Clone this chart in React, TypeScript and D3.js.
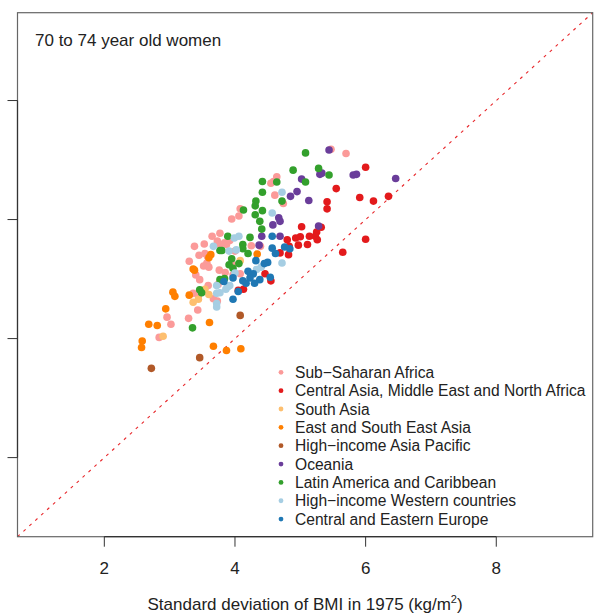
import React from "react";
import * as d3 from "d3";

const groups = [
  "Sub\u2212Saharan Africa",
  "Central Asia, Middle East and North Africa",
  "South Asia",
  "East and South East Asia",
  "High\u2212income Asia Pacific",
  "Oceania",
  "Latin America and Caribbean",
  "High\u2212income Western countries",
  "Central and Eastern Europe",
];
const colors = ["#fb9a99", "#e31a1c", "#fdbf6f", "#ff7f00", "#b15928", "#6a3d9a", "#33a02c", "#a6cee3", "#1f78b4"];

// [sd 1975, sd 2014]
const subSaharan: [number, number][] = [
  [5.47, 7.18], [5.7, 7.11], [4.55, 6.61], [4.59, 6.64], [4.64, 6.72], [4.61, 6.41], [4.74, 6.27],
  [4.08, 6.18], [4.06, 6.06], [3.95, 6.01], [3.77, 5.77], [3.73, 5.64], [3.84, 5.61], [3.92, 5.65],
  [3.87, 5.58], [3.77, 5.58], [3.38, 5.55], [3.53, 5.59], [3.45, 5.4], [3.54, 5.43], [3.58, 5.38],
  [4.0, 5.47], [4.25, 5.56], [4.39, 5.55], [3.3, 5.3], [3.57, 5.27], [3.52, 5.22], [3.4, 5.07],
  [3.46, 4.99], [3.76, 5.15], [3.85, 5.11], [3.97, 5.24], [3.97, 5.07], [4.08, 5.09], [3.59, 4.89],
  [3.74, 4.91], [3.36, 4.76], [3.44, 4.72], [3.67, 4.67], [3.73, 4.63], [3.43, 4.48], [2.96, 4.36],
  [3.29, 4.34], [3.02, 4.24], [2.84, 4.02], [3.65, 5.72], [3.6, 5.2],
];
const centralAsia: [number, number][] = [
  [6.0, 6.88], [5.55, 6.52], [5.91, 6.37], [6.12, 6.31], [6.35, 6.39], [5.41, 6.3], [5.41, 6.18],
  [5.02, 5.88], [5.32, 5.87], [5.25, 5.79], [5.23, 5.72], [6.0, 5.67], [4.8, 5.66], [4.93, 5.69],
  [5.0, 5.71], [5.14, 5.72], [5.26, 5.66], [4.83, 5.55], [4.97, 5.57], [5.11, 5.58], [4.69, 5.44],
  [4.82, 5.41], [5.65, 5.45], [4.46, 5.09], [4.55, 4.97], [4.13, 4.83], [4.05, 4.81],
];
const southAsia: [number, number][] = [
  [4.08, 5.31], [3.54, 4.83], [3.6, 4.74], [3.44, 4.66], [3.36, 4.61], [2.9, 4.04],
];
const eastAsia: [number, number][] = [
  [3.63, 5.41], [3.6, 5.36], [4.34, 5.42], [3.36, 5.17], [3.38, 5.15], [3.05, 4.78], [3.08, 4.71],
  [3.3, 4.73], [2.94, 4.5], [2.68, 4.24], [2.81, 4.22], [3.61, 4.27], [2.58, 3.96], [2.57, 3.85],
  [3.67, 3.87], [3.87, 3.8], [4.09, 3.83],
];
const asiaPacific: [number, number][] = [
  [4.08, 4.39], [3.46, 3.68], [2.72, 3.5],
];
const oceania: [number, number][] = [
  [5.44, 7.17], [5.81, 6.75], [5.86, 6.76], [6.46, 6.69], [5.3, 6.76], [5.33, 6.78], [5.02, 6.68],
  [4.95, 6.47], [4.85, 6.39], [5.13, 6.32], [4.67, 6.03], [4.69, 5.97], [4.58, 5.91], [5.28, 5.89],
  [4.41, 5.72], [4.69, 5.72], [4.37, 5.57],
];
const latinAmerica: [number, number][] = [
  [5.08, 7.12], [4.89, 6.83], [5.28, 6.86], [5.44, 6.75], [5.08, 6.63], [4.42, 6.64], [4.64, 6.63],
  [4.42, 6.46], [4.32, 6.31], [4.31, 6.23], [4.72, 6.31], [4.13, 6.16], [4.42, 6.15], [4.31, 6.08],
  [4.38, 5.97], [4.41, 5.84], [4.23, 5.7], [3.89, 5.72], [4.12, 5.58], [4.12, 5.51], [4.2, 5.43],
  [3.77, 5.48], [3.8, 5.48], [3.95, 5.34], [3.91, 5.24], [3.97, 5.18], [4.06, 5.26], [3.77, 4.99],
  [3.84, 5.01], [3.46, 4.82], [3.49, 4.77], [3.35, 4.18],
];
const western: [number, number][] = [
  [4.72, 6.46], [4.57, 6.11], [3.99, 5.69], [4.06, 5.72], [3.67, 5.55], [3.91, 5.47], [4.02, 5.49],
  [4.0, 5.1], [4.72, 5.27], [4.33, 5.16], [4.4, 5.2], [3.89, 4.87], [3.86, 4.83], [3.77, 4.77],
  [3.72, 4.76], [3.92, 4.89], [3.72, 4.59], [3.72, 4.53], [3.72, 4.89],
];
const easternEurope: [number, number][] = [
  [4.57, 5.72], [4.57, 5.52], [4.62, 5.43], [4.76, 5.54], [4.84, 5.51], [4.5, 5.28], [4.45, 5.26],
  [4.32, 5.31], [4.2, 5.13], [4.28, 5.09], [4.38, 4.99], [4.54, 5.03], [4.12, 4.97], [4.17, 4.93],
  [4.3, 4.93], [4.23, 5.02], [3.83, 4.96], [3.97, 5.02], [4.05, 4.79], [3.97, 4.66],
];
const seriesData = [subSaharan, centralAsia, southAsia, eastAsia, asiaPacific, oceania, latinAmerica, western, easternEurope];
const ticks = [2, 4, 6, 8];
const title = "70 to 74 year old women";

export default function App() {
  const W = 605, H = 616;
  const left = 17.5, right = 592.7, top = 12.7, bottom = 536.7;
  const domain: [number, number] = [0.671, 9.476];
  const x = d3.scaleLinear().domain(domain).range([left, right]);
  const y = d3.scaleLinear().domain(domain).range([bottom, top]);
  const font = "'Liberation Sans', Arial, sans-serif";
  const legendX = 281, legendY0 = 372.3, legendStep = 18.35;

  return (
    <svg width={W} height={H} style={{ position: "absolute", left: 0, top: 0, background: "#fff" }} fontFamily={font}>
      <rect x={0} y={0} width={W} height={H} fill="#fff" />
      {/* diagonal y = x */}
      <line x1={x(domain[0])} y1={y(domain[0])} x2={x(domain[1])} y2={y(domain[1])}
        stroke="#e8262a" strokeWidth={1.1} strokeDasharray="3,5" />
      {/* points */}
      {seriesData.map((pts, gi) => (
        <g key={gi}>
          {pts.map((p, i) => (
            <circle key={i} cx={x(p[0])} cy={y(p[1])} r={3.8} fill={colors[gi]} />
          ))}
        </g>
      ))}
      {/* frame */}
      <rect x={left} y={top} width={right - left} height={bottom - top} fill="none" stroke="#666" strokeWidth={1.2} />
      {/* axes */}
      <line x1={x(2)} x2={x(8)} y1={bottom} y2={bottom} stroke="#333" strokeWidth={1.2} />
      <line x1={left} x2={left} y1={y(2)} y2={y(8)} stroke="#333" strokeWidth={1.2} />
      {ticks.map((t) => (
        <g key={"x" + t}>
          <line x1={x(t)} x2={x(t)} y1={bottom} y2={bottom + 10} stroke="#333" strokeWidth={1} />
          <text x={x(t)} y={574} textAnchor="middle" fontSize={17} fill="#222">{t}</text>
        </g>
      ))}
      {ticks.map((t) => (
        <line key={"y" + t} x1={left - 10} x2={left} y1={y(t)} y2={y(t)} stroke="#333" strokeWidth={1} />
      ))}
      <text x={35} y={45.5} fontSize={17} fill="#222">{title}</text>
      <text x={(left + right) / 2} y={610} textAnchor="middle" fontSize={17} fill="#222">
        Standard deviation of BMI in 1975 (kg/m<tspan dy={-7} fontSize={11}>2</tspan><tspan dy={7}>)</tspan>
      </text>
      {/* legend */}
      {groups.map((g, i) => (
        <g key={g}>
          <circle cx={legendX} cy={legendY0 + i * legendStep} r={2.4} fill={colors[i]} />
          <text x={295} y={legendY0 + i * legendStep} dy="0.36em" fontSize={15.6} fill="#222">{g}</text>
        </g>
      ))}
    </svg>
  );
}
